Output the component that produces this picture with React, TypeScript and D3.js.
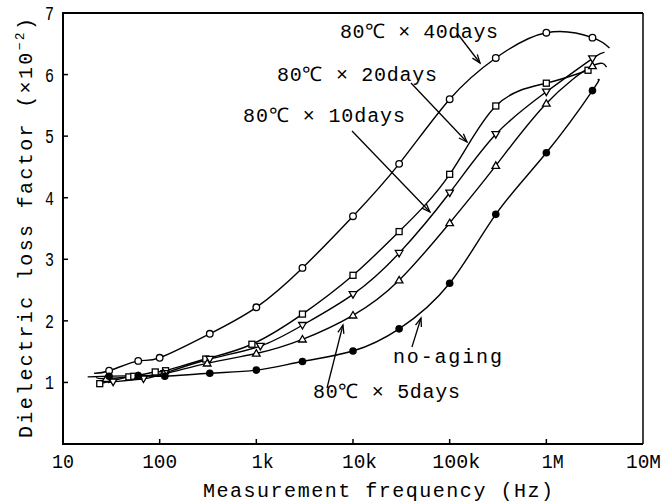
import React from "react";
import * as d3 from "d3";

// ---------- data ----------
const xTickValues = [10, 100, 1e3, 1e4, 1e5, 1e6, 1e7];
const xTickLabels = ["10", "100", "1k", "10k", "100k", "1M", "10M"];
const yTickValues = [1, 2, 3, 4, 5, 6, 7];

const freq40 = [30, 60, 100, 330, 1000, 3000, 10000, 30000, 100000, 300000, 1e6, 3e6];
const val40 = [1.19, 1.35, 1.4, 1.79, 2.22, 2.86, 3.7, 4.55, 5.6, 6.27, 6.68, 6.6];
const tail40 = [21, 1.15, 4.5e6, 6.43];

const freq20 = [24, 48, 54, 90, 115, 300, 900, 3000, 10000, 30000, 100000, 300000, 1e6, 2.7e6];
const val20 = [0.98, 1.09, 1.1, 1.17, 1.19, 1.38, 1.62, 2.11, 2.74, 3.45, 4.38, 5.49, 5.86, 6.07];
const tail20 = [24, 0.98, 2.7e6, 6.07];

const freq10 = [33, 68, 113, 330, 1100, 3000, 10000, 30000, 100000, 300000, 1e6, 3e6];
const val10 = [1.01, 1.06, 1.15, 1.38, 1.59, 1.93, 2.43, 3.1, 4.08, 5.03, 5.72, 6.26];
const tail10 = [30, 1.0, 4.0e6, 6.36];

const freq5 = [28, 60, 110, 310, 1000, 3000, 10000, 30000, 100000, 300000, 1e6, 3e6];
const val5 = [1.06, 1.1, 1.14, 1.31, 1.47, 1.7, 2.09, 2.66, 3.59, 4.52, 5.53, 6.14];
const tail5 = [22, 1.08, 4.2e6, 6.12];

const freq0 = [30, 60, 113, 330, 1000, 3000, 10000, 30000, 100000, 300000, 1e6, 3e6];
const val0 = [1.1, 1.11, 1.1, 1.15, 1.2, 1.34, 1.51, 1.87, 2.61, 3.73, 4.73, 5.74];
const tail0 = [18, 1.09, 3.4e6, 5.91];

const annotationTexts = ["80℃ × 40days", "80℃ × 20days", "80℃ × 10days", "no-aging", "80℃ × 5days"];
// text anchor (freq, value) and arrow from/to (freq, value)
const annotationAt = [
  [7330, 6.594],
  [1636, 5.896],
  [728, 5.23],
  [25900, 1.316],
  [3855, 0.747],
];
const arrowFrom = [
  [119000, 6.675],
  [39800, 5.863],
  [9770, 5.084],
  [40700, 1.575],
  [5380, 0.91],
];
const arrowTo = [
  [206000, 6.188],
  [151000, 4.905],
  [62500, 3.768],
  [50500, 2.046],
  [7870, 1.933],
];

// ---------- layout ----------
const W = 662;
const H = 504;
const L = 63;
const R = 643;
const T = 13;
const B = 444;
const FONT = "'Liberation Mono', 'DejaVu Sans Mono', monospace";

const x = d3.scaleLog().domain([10, 1e7]).range([L, R]);
const y = d3.scaleLinear().domain([0, 7]).range([B, T]);

type Series = { f: number[]; v: number[]; tail: number[]; marker: string };
const series: Series[] = [
  { f: freq40, v: val40, tail: tail40, marker: "circle" },
  { f: freq20, v: val20, tail: tail20, marker: "square" },
  { f: freq10, v: val10, tail: tail10, marker: "down" },
  { f: freq5, v: val5, tail: tail5, marker: "up" },
  { f: freq0, v: val0, tail: tail0, marker: "dot" },
];

const line = d3
  .line<[number, number]>()
  .x((d) => x(d[0]))
  .y((d) => y(d[1]))
  .curve(d3.curveNatural);

function Marker({ kind, cx, cy }: { kind: string; cx: number; cy: number }) {
  const sw = 1.3;
  if (kind === "circle") return <circle cx={cx} cy={cy} r={3.3} fill="#fff" stroke="#000" strokeWidth={sw} />;
  if (kind === "dot") return <circle cx={cx} cy={cy} r={3.8} fill="#000" />;
  if (kind === "square")
    return <rect x={cx - 3} y={cy - 3} width={6} height={6} fill="#fff" stroke="#000" strokeWidth={sw} />;
  const s = 3.8;
  if (kind === "up")
    return (
      <path
        d={`M${cx},${cy - s} L${cx + s},${cy + s * 0.7} L${cx - s},${cy + s * 0.7} Z`}
        fill="#fff"
        stroke="#000"
        strokeWidth={sw}
      />
    );
  return (
    <path
      d={`M${cx},${cy + s} L${cx + s},${cy - s * 0.7} L${cx - s},${cy - s * 0.7} Z`}
      fill="#fff"
      stroke="#000"
      strokeWidth={sw}
    />
  );
}

function Arrow({ from, to }: { from: number[]; to: number[] }) {
  const x1 = x(from[0]);
  const y1 = y(from[1]);
  const x2 = x(to[0]);
  const y2 = y(to[1]);
  const a = Math.atan2(y2 - y1, x2 - x1);
  const len = 9;
  const sp = 0.35;
  const hx1 = x2 - len * Math.cos(a - sp);
  const hy1 = y2 - len * Math.sin(a - sp);
  const hx2 = x2 - len * Math.cos(a + sp);
  const hy2 = y2 - len * Math.sin(a + sp);
  return (
    <g stroke="#000" strokeWidth={1.3} fill="none">
      <line x1={x1} y1={y1} x2={x2} y2={y2} />
      <path d={`M${hx1},${hy1} L${x2},${y2} L${hx2},${hy2}`} />
    </g>
  );
}

const annotationWidths = [158, 160, 162, 109, 147];

export default function App() {
  const cw = 13;
  return (
    <svg width={W} height={H} style={{ position: "absolute", left: 0, top: 0, background: "#fff" }}>
      <rect x={0} y={0} width={W} height={H} fill="#fff" />
      {/* frame */}
      <g stroke="#000" fill="none">
        <line x1={L} y1={T} x2={R} y2={T} strokeWidth={2} />
        <line x1={L} y1={T - 1} x2={L} y2={B + 1} strokeWidth={2} />
        <line x1={L} y1={B} x2={R} y2={B} strokeWidth={2} />
        <line x1={R} y1={T} x2={R} y2={B} strokeWidth={1.5} />
      </g>
      {/* x ticks */}
      {xTickValues.map((v, i) => {
        const tx = x(v);
        const lab = xTickLabels[i];
        const nd = lab.replace(/[kM]/g, "").length;
        const len = (lab.length - 1) * cw + 9;
        const start = Math.min(tx - ((nd - 1) * cw) / 2 - 4.5, 661 - len);
        return (
          <g key={"xt" + i}>
            {i > 0 && i < xTickValues.length - 1 && (
              <line x1={tx} y1={B} x2={tx} y2={B - 5} stroke="#000" strokeWidth={1.5} />
            )}
            <text
              x={start}
              y={468}
              fontFamily={FONT}
              fontSize={20}
              textLength={len}
              lengthAdjust="spacingAndGlyphs"
            >
              {lab}
            </text>
          </g>
        );
      })}
      {/* y ticks */}
      {yTickValues.map((v) => (
        <g key={"yt" + v}>
          {v < 7 && <line x1={L} y1={y(v)} x2={L + 5} y2={y(v)} stroke="#000" strokeWidth={1.5} />}
          <text
            x={45}
            y={y(v) + 7}
            fontFamily={FONT}
            fontSize={20}
            textLength={9}
            lengthAdjust="spacingAndGlyphs"
          >
            {String(v)}
          </text>
        </g>
      ))}
      {/* axis titles */}
      <text x={203} y={497} fontFamily={FONT} fontSize={20} textLength={350} lengthAdjust="spacing">
        Measurement frequency (Hz)
      </text>
      <text
        transform="translate(32,438) rotate(-90)"
        fontFamily={FONT}
        fontSize={20}
        textLength={420}
        lengthAdjust="spacing"
      >
        Dielectric loss factor (×10
        <tspan dy={-8} fontSize={13}>
          −2
        </tspan>
        <tspan dy={8}>)</tspan>
      </text>
      {/* curves */}
      {series.map((s, i) => {
        const pts: [number, number][] = s.f.map((f, j) => [f, s.v[j]] as [number, number]);
        const first = pts[0];
        const last = pts[pts.length - 1];
        const all: [number, number][] = [];
        if (s.tail[0] !== first[0]) all.push([s.tail[0], s.tail[1]]);
        all.push(...pts);
        if (s.tail[2] !== last[0]) all.push([s.tail[2], s.tail[3]]);
        return <path key={"c" + i} d={line(all) || ""} fill="none" stroke="#000" strokeWidth={1.4} />;
      })}
      {/* markers */}
      {series.map((s, i) => (
        <g key={"m" + i}>
          {s.f.map((f, j) => (
            <Marker key={j} kind={s.marker} cx={x(f)} cy={y(s.v[j])} />
          ))}
        </g>
      ))}
      {/* annotations */}
      {annotationTexts.map((t, i) => (
        <g key={"a" + i}>
          <text
            x={x(annotationAt[i][0])}
            y={y(annotationAt[i][1])}
            fontFamily={FONT}
            fontSize={20}
            textLength={annotationWidths[i]}
            lengthAdjust="spacing"
          >
            {t}
          </text>
          <Arrow from={arrowFrom[i]} to={arrowTo[i]} />
        </g>
      ))}
    </svg>
  );
}
